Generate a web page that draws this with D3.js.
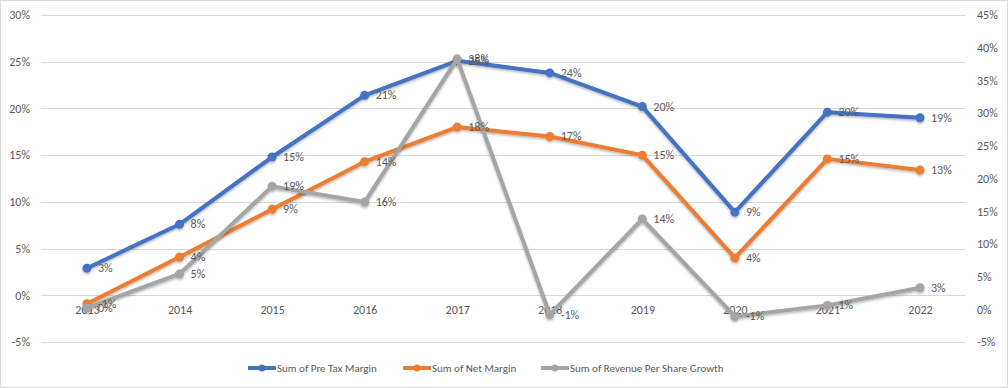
<!DOCTYPE html>
<html>
<head>
<meta charset="utf-8">
<script src="https://cdn.jsdelivr.net/npm/d3@7"></script>
<style>
  body { margin: 0; background: #fff; }
  svg text { font-family: Carlito, Lato, "Liberation Sans", sans-serif; fill: #595959; }
</style>
</head>
<body>
<div id="chart"></div>
<script>
var years = ["2013", "2014", "2015", "2016", "2017", "2018", "2019", "2020", "2021", "2022"];
var preTaxMargin = [2.9, 7.6, 14.8, 21.4, 25.1, 23.8, 20.2, 8.9, 19.6, 19.0];
var netMargin = [-0.9, 4.1, 9.2, 14.3, 18.0, 17.0, 15.0, 4.0, 14.6, 13.4];
var revenueGrowth = [0.2, 5.4, 18.8, 16.4, 38.3, -0.8, 13.8, -1.1, 0.6, 3.3];
var leftTicks = [-5, 0, 5, 10, 15, 20, 25, 30];
var rightTicks = [-5, 0, 5, 10, 15, 20, 25, 30, 35, 40, 45];
var seriesNames = ["Sum of Pre Tax Margin", "Sum of Net Margin", "Sum of Revenue Per Share Growth"];

var W = 1008, H = 388;
var svg = d3.select("#chart").append("svg")
    .attr("width", W).attr("height", H);

svg.append("rect")
    .attr("x", 0.5).attr("y", 0.5)
    .attr("width", W - 1).attr("height", H - 1)
    .attr("fill", "#fff").attr("stroke", "#d9d9d9");

var defs = svg.append("defs");
var f = defs.append("filter").attr("id", "shadow")
    .attr("x", "-10%").attr("y", "-10%").attr("width", "120%").attr("height", "130%");
f.append("feDropShadow").attr("dx", 0).attr("dy", 1.5).attr("stdDeviation", 1.2)
    .attr("flood-color", "#000").attr("flood-opacity", 0.3);

var x = d3.scalePoint().domain(years).range([87, 920]);
var yL = d3.scaleLinear().domain([-5, 30]).range([342, 15]);
var yR = d3.scaleLinear().domain([-5, 45]).range([342, 15]);

// gridlines
svg.append("g").selectAll("line")
    .data(leftTicks)
    .enter().append("line")
    .attr("x1", 41).attr("x2", 966)
    .attr("y1", function(d) { return Math.round(yL(d)) + 0.5; })
    .attr("y2", function(d) { return Math.round(yL(d)) + 0.5; })
    .attr("stroke", "#d9d9d9").attr("stroke-width", 1);

// left axis
svg.append("g")
    .attr("transform", "translate(30,0)")
    .call(d3.axisLeft(yL).tickValues(leftTicks).tickSize(0).tickPadding(0)
        .tickFormat(function(d) { return d + "%"; }))
    .call(function(g) { g.select(".domain").remove(); })
    .selectAll("text").style("font-size", "12px").attr("fill", "#595959");

// right axis
svg.append("g")
    .attr("transform", "translate(977,0)")
    .call(d3.axisRight(yR).tickValues(rightTicks).tickSize(0).tickPadding(0)
        .tickFormat(function(d) { return d + "%"; }))
    .call(function(g) { g.select(".domain").remove(); })
    .selectAll("text").style("font-size", "12px").attr("fill", "#595959");

// category labels
svg.append("g")
    .attr("transform", "translate(0," + (yL(0) + 10) + ")")
    .call(d3.axisBottom(x).tickSize(0).tickPadding(0))
    .call(function(g) { g.select(".domain").remove(); })
    .selectAll("text").style("font-size", "12px").attr("fill", "#595959");

var series = [
    { name: seriesNames[0], values: preTaxMargin, y: yL, color: "#4472C4" },
    { name: seriesNames[1], values: netMargin, y: yL, color: "#ED7D31" },
    { name: seriesNames[2], values: revenueGrowth, y: yR, color: "#A5A5A5" }
];

series.forEach(function(s) {
    var line = d3.line()
        .x(function(d, i) { return x(years[i]); })
        .y(function(d) { return s.y(d); });
    var g = svg.append("g").attr("filter", "url(#shadow)");
    g.append("path")
        .datum(s.values)
        .attr("d", line)
        .attr("fill", "none")
        .attr("stroke", s.color)
        .attr("stroke-width", 4)
        .attr("stroke-linejoin", "round");
    g.selectAll("circle")
        .data(s.values)
        .enter().append("circle")
        .attr("cx", function(d, i) { return x(years[i]); })
        .attr("cy", function(d) { return s.y(d); })
        .attr("r", 4.5)
        .attr("fill", s.color);
});

series.forEach(function(s) {
    svg.append("g").selectAll("text")
        .data(s.values)
        .enter().append("text")
        .attr("x", function(d, i) { return x(years[i]) + 11; })
        .attr("y", function(d) { return s.y(d) + 4; })
        .style("font-size", "12px")
        .text(function(d) { return Math.round(d) + "%"; });
});

// legend
var legendX = [248, 403, 541];
var lg = svg.append("g");
series.forEach(function(s, i) {
    var g = lg.append("g").attr("transform", "translate(" + legendX[i] + ",368)");
    g.append("line").attr("x1", 0).attr("x2", 28).attr("y1", 0).attr("y2", 0)
        .attr("stroke", s.color).attr("stroke-width", 4);
    g.append("circle").attr("cx", 14).attr("cy", 0).attr("r", 3.5).attr("fill", s.color);
    g.append("text").attr("x", 29).attr("y", 4)
        .style("font-size", "11px")
        .text(s.name);
});
</script>
</body>
</html>
